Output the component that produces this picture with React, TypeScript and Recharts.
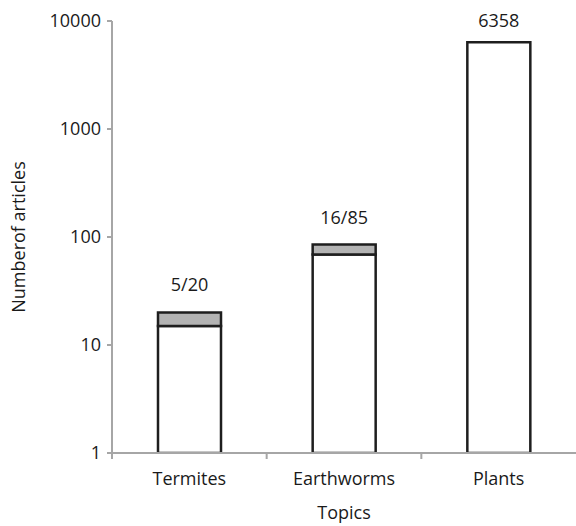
import { ComposedChart, Bar, XAxis, YAxis, LabelList, Label } from "recharts";

const topics = ["Termites", "Earthworms", "Plants"];
const totalArticles = [20, 85, 6358];
const flaggedArticles = [5, 16, 0];
const barLabels = ["5/20", "16/85", "6358"];
const yTicks = [1, 10, 100, 1000, 10000];

const FONT = "'Open Sans', sans-serif";
const SIZE = 18;
const TEXT = "#1a1a1a";
const AXIS = "#a6a6a6";
const EDGE = "#1e1e1e";
const GREY = "#b3b3b3";

const data = topics.map((topic, i) => ({
  topic,
  total: [1, totalArticles[i]],
  lower: [1, totalArticles[i] - flaggedArticles[i]],
  upper: [totalArticles[i] - flaggedArticles[i], totalArticles[i]],
  label: barLabels[i],
}));

function TopicTick(props: any) {
  const { x, y, payload } = props;
  const half = payload.offset || 0;
  return (
    <g>
      <line x1={x - half} x2={x - half} y1={y} y2={y + 6} stroke={AXIS} strokeWidth={2} />
      <text x={x} y={y + 32} textAnchor="middle" fontSize={SIZE} fill={TEXT} fontFamily={FONT}>
        {payload.value}
      </text>
    </g>
  );
}

function CountLabel(props: any) {
  const { x, y, width, value } = props;
  return (
    <text
      x={x + width / 2}
      y={Math.max(y - 21, 27)}
      textAnchor="middle"
      fontSize={SIZE}
      fill={TEXT}
      fontFamily={FONT}
    >
      {value}
    </text>
  );
}

export default function App() {
  return (
    <div style={{ position: "absolute", left: 0, top: 0, background: "#fff" }}>
      <ComposedChart
        width={576}
        height={526}
        data={data}
        margin={{ top: 21, right: 0, bottom: 0, left: 0 }}
        barSize={63}
        barGap={-63}
      >
        <XAxis
          dataKey="topic"
          height={73}
          interval={0}
          tickLine={false}
          tickSize={0}
          tickMargin={0}
          axisLine={{ stroke: AXIS, strokeWidth: 2 }}
          tick={<TopicTick />}
        >
          <Label
            content={({ viewBox }: any) => (
              <text
                x={viewBox.x + viewBox.width / 2}
                y={519}
                textAnchor="middle"
                fontSize={SIZE}
                fill={TEXT}
                fontFamily={FONT}
              >
                Topics
              </text>
            )}
          />
        </XAxis>
        <YAxis
          scale="log"
          domain={[1, 10000]}
          ticks={yTicks}
          allowDataOverflow
          interval={0}
          width={112}
          tickSize={5}
          tickMargin={6}
          axisLine={{ stroke: AXIS, strokeWidth: 2 }}
          tickLine={{ stroke: AXIS, strokeWidth: 2 }}
          tick={{ fontSize: SIZE, fill: TEXT, fontFamily: FONT }}
        >
          <Label
            content={({ viewBox }: any) => {
              const cx = 18;
              const cy = viewBox.y + viewBox.height / 2;
              return (
                <text
                  x={cx}
                  y={cy}
                  transform={`rotate(-90 ${cx} ${cy})`}
                  textAnchor="middle"
                  dominantBaseline="central"
                  fontSize={SIZE}
                  fill={TEXT}
                  fontFamily={FONT}
                >
                  Numberof articles
                </text>
              );
            }}
          />
        </YAxis>
        <Bar dataKey="total" fill="none" stroke="none" isAnimationActive={false}>
          <LabelList dataKey="label" content={<CountLabel />} />
        </Bar>
        <Bar
          dataKey="lower"
          fill="#ffffff"
          stroke={EDGE}
          strokeWidth={2.5}
          isAnimationActive={false}
        />
        <Bar
          dataKey="upper"
          fill={GREY}
          stroke={EDGE}
          strokeWidth={2.5}
          isAnimationActive={false}
        />
      </ComposedChart>
    </div>
  );
}
